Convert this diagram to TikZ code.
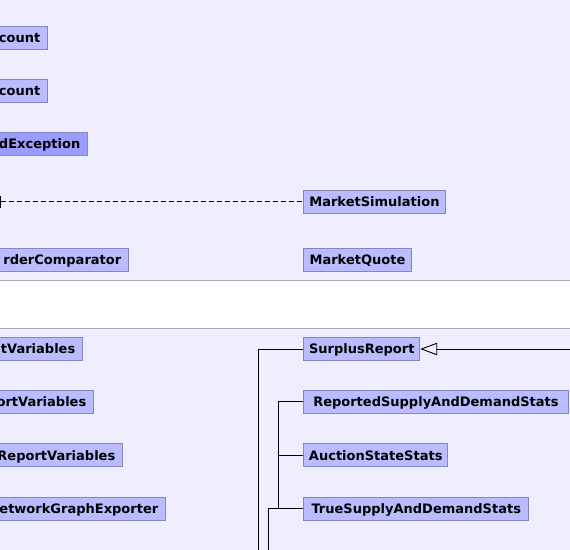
\documentclass[tikz,border=0pt]{standalone}
\usepackage{fontspec}
\setmainfont{DejaVu Sans}
\usetikzlibrary{arrows.meta}
\definecolor{pkgbg}{HTML}{EEEEFF}
\definecolor{sepline}{HTML}{A8A8BC}
\definecolor{boxfill}{HTML}{BBBBFF}
\definecolor{boxdraw}{HTML}{8585BF}
\definecolor{excfill}{HTML}{9C9CFF}
\tikzset{
  cls/.style={draw=boxdraw, fill=boxfill, line width=0.9pt, inner xsep=5pt, inner ysep=3pt,
    text height=13.4pt, text depth=3.6pt, font=\fontsize{13}{15}\selectfont\bfseries, text=black},
  leftcls/.style={cls, anchor=east, align=right, text width=#1, inner xsep=7pt},
  rcls/.style={cls, anchor=west, minimum width=#1},
  exc/.style={fill=excfill},
  link/.style={draw=black, line width=0.9pt},
}
\begin{document}
\begin{tikzpicture}[x=1pt,y=-1pt]
\useasboundingbox (0,0) rectangle (570,549);
\clip (0,0) rectangle (570,549);
% backgrounds
\fill[white] (0,0) rectangle (570,549);
\fill[pkgbg] (-5,-5) rectangle (575,280);
\fill[pkgbg] (-5,328) rectangle (575,554);
\draw[sepline, line width=0.9pt] (-5,280) -- (575,280);
\draw[sepline, line width=0.9pt] (-5,328) -- (575,328);
% top package
\node[leftcls=60pt] (accA) at (47.7,37.7) {count};
\node[leftcls=60pt] (accB) at (47.7,90.8) {count};
\node[leftcls=100pt, exc] (excp) at (87.7,143.7) {dException};
\node[leftcls=140pt] (comp) at (128.7,259.8) {rderComparator};
\node[rcls=141.4pt] (sim) at (303.3,201.8) {MarketSimulation};
\node[rcls=107.4pt] (quote) at (303.3,259.8) {MarketQuote};
\coordinate (dashstart) at (0.8,201.8);
\draw[link, dash pattern=on 5pt off 3pt] (dashstart) -- (sim.west);
\draw[link] (0.8,195.8) -- (0.8,207.8);
% bottom package
\node[leftcls=95pt] (varA) at (82.7,349) {tVariables};
\node[leftcls=105pt] (varB) at (93.7,401.8) {ortVariables};
\node[leftcls=135pt] (varC) at (122.7,455.3) {ReportVariables};
\node[leftcls=180pt] (graph) at (165.7,508.7) {etworkGraphExporter};
\node[rcls=116pt] (surplus) at (303.3,349) {SurplusReport};
\node[rcls=264.4pt] (reported) at (303.3,401.8) {ReportedSupplyAndDemandStats};
\node[rcls=144pt] (auction) at (303.3,455.3) {AuctionStateStats};
\node[rcls=225pt] (truesd) at (303.3,508.7) {TrueSupplyAndDemandStats};
\coordinate (inhfrom) at (572,349);
\draw[link, -{Triangle[open, length=17pt, width=12.5pt, line width=0.9pt]}] (inhfrom) -- (surplus.east);
\coordinate (busA) at (258.3,349);
\coordinate (busAend) at (258.3,552);
\draw[link] (surplus.west) -- (busA) -- (busAend);
\coordinate (busB) at (278.5,401.8);
\coordinate (busBend) at (278.5,508.7);
\draw[link] (reported.west) -- (busB) -- (busBend) -- (truesd.west);
\draw[link] (auction.west) -- (auction.west -| busB);
\coordinate (busC) at (268.3,508.7);
\coordinate (busCend) at (268.3,552);
\draw[link] (busC) -- (busCend);
\draw[link] (busC) -- (busBend);
\end{tikzpicture}
\end{document}
